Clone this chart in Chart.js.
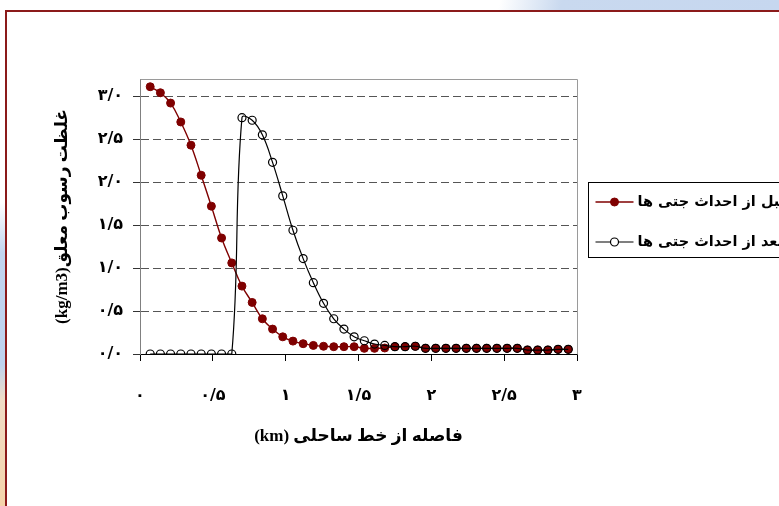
<!DOCTYPE html>
<html>
<head>
<meta charset="utf-8">
<script src="https://cdn.jsdelivr.net/npm/chart.js@4/dist/chart.umd.min.js"></script>
<style>
  html, body { margin: 0; padding: 0; background: #fff; overflow: hidden; }
  #stage { position: relative; width: 779px; height: 506px; overflow: hidden; background: #fff; }
  #topband { position: absolute; left: 0; top: 0; width: 779px; height: 10px;
    background: linear-gradient(100deg, #fff 0%, #fff 64%, #c9d9ef 72%, #c6d7ef 100%); }
  #sideband { position: absolute; left: 0; top: 0; width: 5px; height: 506px;
    background: linear-gradient(180deg, #fff 0%, #fff 40%, #c2d4ee 50%, #bfd2ee 72%, #f0dcc6 79%, #f5d4aa 100%); }
  #frame { position: absolute; left: 5px; top: 10px; width: 800px; height: 520px;
    border-top: 2px solid #8b1a1a; border-left: 2px solid #8b1a1a; }
  canvas { position: absolute; left: 0; top: 0; }
</style>
</head>
<body>
<div id="stage">
  <div id="topband"></div>
  <div id="sideband"></div>
  <div id="frame"></div>
  <canvas id="chart" width="779" height="506"></canvas>
</div>
<script>
// Distance from the shoreline (km) at each sampling station
const distanceKm = [
  0.07, 0.14, 0.21, 0.28, 0.35, 0.42, 0.49, 0.56, 0.63,
  0.70, 0.77, 0.84, 0.91, 0.98, 1.05, 1.12, 1.19, 1.26, 1.33, 1.40,
  1.47, 1.54, 1.61, 1.68, 1.75, 1.82, 1.89, 1.96, 2.03, 2.10,
  2.17, 2.24, 2.31, 2.38, 2.45, 2.52, 2.59, 2.66, 2.73, 2.80, 2.87, 2.94
];

// Suspended sediment concentration (kg/m3) before the jetties were built
const beforeJetties = [
  3.11, 3.04, 2.92, 2.70, 2.43, 2.08, 1.72, 1.35, 1.06,
  0.79, 0.60, 0.41, 0.29, 0.20, 0.15, 0.12, 0.10, 0.09, 0.085, 0.085,
  0.085, 0.066, 0.066, 0.07, 0.085, 0.085, 0.09, 0.066, 0.066, 0.066,
  0.066, 0.066, 0.066, 0.066, 0.066, 0.066, 0.066, 0.046, 0.046, 0.046, 0.054, 0.054
];

// Suspended sediment concentration (kg/m3) after the jetties were built
const afterJetties = [
  0, 0, 0, 0, 0, 0, 0, 0, 0,
  2.75, 2.72, 2.55, 2.23, 1.84, 1.44, 1.11, 0.83, 0.59, 0.41, 0.29,
  0.20, 0.154, 0.116, 0.10, 0.085, 0.085, 0.09, 0.066, 0.066, 0.066,
  0.066, 0.066, 0.066, 0.066, 0.066, 0.066, 0.066, 0.046, 0.046, 0.046, 0.054, 0.054
];

const xTickValues = [0, 0.5, 1, 1.5, 2, 2.5, 3];
const xTickLabels = ['۰', '۰/۵', '۱', '۱/۵', '۲', '۲/۵', '۳'];
const yTickValues = [0, 0.5, 1, 1.5, 2, 2.5, 3];
const yTickLabels = ['۰/۰', '۰/۵', '۱/۰', '۱/۵', '۲/۰', '۲/۵', '۳/۰'];

const seriesNames = ['قبل از احداث جتی ها', 'بعد از احداث جتی ها'];
const xTitle = '(km) فاصله از خط ساحلی';
const yTitle = '(kg/m3)غلظت رسوب معلق';

const FONT = "'Liberation Serif', 'DejaVu Sans', serif";
const ARABIC_FONT = "'DejaVu Sans', sans-serif";

// Grey frame on the top and right of the plot area
const plotFrame = {
  id: 'plotFrame',
  beforeDatasetsDraw(chart) {
    const { ctx, chartArea: a } = chart;
    ctx.save();
    ctx.strokeStyle = '#9a9a9a';
    ctx.lineWidth = 1;
    ctx.beginPath();
    ctx.moveTo(Math.round(a.left) + 0.5, Math.round(a.top) + 0.5);
    ctx.lineTo(Math.round(a.right) + 0.5, Math.round(a.top) + 0.5);
    ctx.lineTo(Math.round(a.right) + 0.5, Math.round(a.bottom) + 0.5);
    ctx.stroke();
    ctx.restore();
  }
};

// Boxed legend to the right of the plot
const sideLegend = {
  id: 'sideLegend',
  afterDraw(chart) {
    const { ctx, chartArea: a } = chart;
    const bx = Math.round(a.right) + 11.5;
    const by = 182.5;
    const bh = 75;
    ctx.save();
    ctx.strokeStyle = '#000';
    ctx.lineWidth = 1;
    ctx.strokeRect(bx, by, 400, bh);
    chart.data.datasets.forEach((ds, i) => {
      const cy = by + 19.5 + i * 40;
      const lx0 = bx + 7, lx1 = bx + 45, mx = (lx0 + lx1) / 2;
      ctx.strokeStyle = ds.borderColor;
      ctx.lineWidth = ds.borderWidth;
      ctx.beginPath();
      ctx.moveTo(lx0, cy);
      ctx.lineTo(lx1, cy);
      ctx.stroke();
      ctx.beginPath();
      ctx.arc(mx, cy, ds.pointRadius, 0, Math.PI * 2);
      ctx.fillStyle = ds.legendMarkerFill;
      ctx.fill();
      ctx.lineWidth = ds.pointBorderWidth;
      ctx.strokeStyle = ds.pointBorderColor;
      ctx.stroke();
      ctx.fillStyle = '#000';
      ctx.font = "bold 14.5px " + ARABIC_FONT;
      ctx.textAlign = 'left';
      ctx.textBaseline = 'middle';
      ctx.fillText(ds.label, lx1 + 4, cy);
    });
    ctx.restore();
  }
};

new Chart(document.getElementById('chart'), {
  type: 'line',
  data: {
    datasets: [
      {
        label: seriesNames[0],
        data: distanceKm.map((x, i) => ({ x, y: beforeJetties[i] })),
        borderColor: '#7f0000',
        backgroundColor: '#7f0000',
        pointBackgroundColor: '#7f0000',
        pointBorderColor: '#7f0000',
        pointBorderWidth: 1,
        legendMarkerFill: '#7f0000',
        pointRadius: 4,
        borderWidth: 1.4,
        tension: 0.4,
        fill: false,
        order: 2
      },
      {
        label: seriesNames[1],
        data: distanceKm.map((x, i) => ({ x, y: afterJetties[i] })),
        borderColor: '#000',
        backgroundColor: 'rgba(0,0,0,0)',
        pointBackgroundColor: 'rgba(0,0,0,0)',
        pointBorderColor: '#000',
        pointBorderWidth: 1.2,
        legendMarkerFill: '#fff',
        pointRadius: 4,
        borderWidth: 1.2,
        tension: 0.4,
        fill: false,
        order: 1
      }
    ]
  },
  options: {
    responsive: false,
    animation: false,
    devicePixelRatio: 1,
    layout: { padding: { left: 0, right: 202, top: 79, bottom: 0 } },
    plugins: { legend: { display: false }, tooltip: { enabled: false } },
    scales: {
      x: {
        type: 'linear',
        min: 0,
        max: 3,
        afterFit(s) { s.height = 152; },
        afterBuildTicks(s) { s.ticks = xTickValues.map(v => ({ value: v })); },
        ticks: {
          callback: (v, i) => xTickLabels[i],
          padding: 25,
          maxRotation: 0,
          autoSkip: false,
          color: '#000',
          font: { family: ARABIC_FONT, size: 16, weight: 'bold' }
        },
        grid: { drawOnChartArea: false, drawTicks: true, tickLength: 7, tickColor: '#000' },
        border: { color: '#000', width: 1 },
        title: {
          display: true,
          text: xTitle,
          color: '#000',
          font: { family: FONT, size: 17, weight: 'bold' },
          padding: { top: 0, bottom: 59 }
        }
      },
      y: {
        min: 0,
        max: 3.2,
        afterFit(s) { s.width = 140; },
        afterBuildTicks(s) { s.ticks = yTickValues.map(v => ({ value: v })); },
        ticks: {
          callback: (v, i) => yTickLabels[i],
          padding: 10,
          color: '#000',
          font: { family: ARABIC_FONT, size: 16, weight: 'bold' }
        },
        grid: {
          color: c => (c.tick && c.tick.value === 0 ? 'rgba(0,0,0,0)' : '#555'),
          lineWidth: 1,
          tickLength: 7,
          tickColor: '#333'
        },
        border: { color: '#808080', width: 1, dash: [8, 4] },
        title: {
          display: true,
          text: yTitle,
          color: '#000',
          font: { family: FONT, size: 17, weight: 'bold' },
          padding: { top: 52, bottom: 0 }
        }
      }
    }
  },
  plugins: [plotFrame, sideLegend]
});
</script>
</body>
</html>
